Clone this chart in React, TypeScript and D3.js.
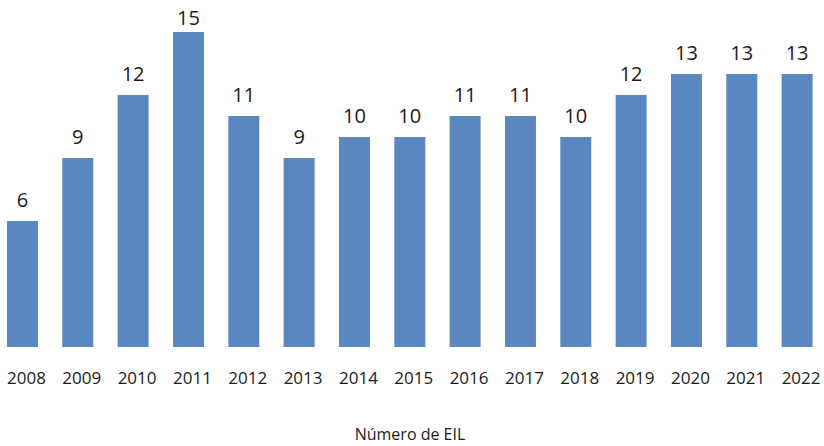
import React from "react";
import * as d3 from "d3";

const years = ["2008","2009","2010","2011","2012","2013","2014","2015","2016","2017","2018","2019","2020","2021","2022"];
const values = [6, 9, 12, 15, 11, 9, 10, 10, 11, 11, 10, 12, 13, 13, 13];
const axisTitle = "Número de EIL";

export default function App() {
  const W = 824, H = 446;
  const x = d3.scaleBand<string>().domain(years).range([-5.2, 824.8]).paddingInner(0.44).paddingOuter(0.22);
  const y = d3.scaleLinear().domain([0, 15]).range([347, 32]);
  const font = "'Open Sans', 'Noto Sans', sans-serif";
  return (
    <svg width={W} height={H} style={{ position: "absolute", left: 0, top: 0 }}>
      <rect width={W} height={H} fill="#fff" />
      {years.map((yr, i) => {
        const bx = x(yr)!;
        const cx = bx + x.bandwidth() / 2;
        const top = y(values[i]);
        return (
          <g key={yr}>
            <rect x={bx} y={top} width={x.bandwidth()} height={y(0) - top} fill="#5b87c0" />
            <text x={cx} y={Math.max(top - 14, 25)} textAnchor="middle" fontSize={20} fontFamily={font} fill="#1a1a1a">{values[i]}</text>
            <text x={bx} y={384} textAnchor="start" fontSize={17} fontFamily={font} fill="#1a1a1a">{yr}</text>
          </g>
        );
      })}
      <text x={410} y={440} textAnchor="middle" fontSize={16} fontFamily={font} fill="#1a1a1a">{axisTitle}</text>
    </svg>
  );
}
